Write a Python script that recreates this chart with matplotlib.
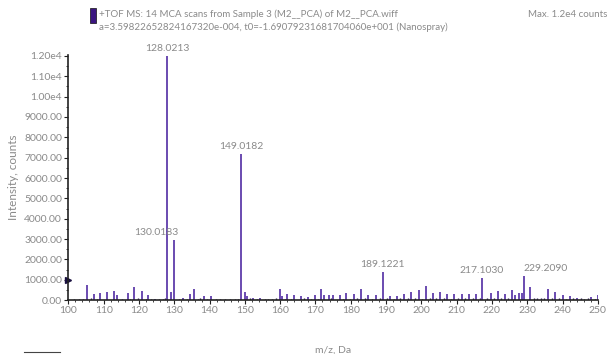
import matplotlib
matplotlib.use('Agg')
import matplotlib.pyplot as plt
from matplotlib.ticker import MultipleLocator, FuncFormatter
from matplotlib.lines import Line2D
from matplotlib.patches import Rectangle

plt.rcParams['font.family'] = ['Lato', 'DejaVu Sans']

# peaks (m/z, counts)
mz = [105.2, 107.2, 109.1, 111.0, 112.9, 113.9, 116.8, 118.7, 120.8, 122.7,
      124.6, 128.0213, 129.1, 130.0183, 132.6, 134.6, 135.5, 138.5, 140.3,
      149.0182, 150.0, 150.6, 152.3, 154.3, 160.0, 160.6, 162.0, 164.0, 165.9,
      167.9, 169.8, 171.6, 172.4, 173.8, 175.0, 176.9, 178.8, 180.9, 182.9,
      185.0, 187.1, 189.1221, 191.2, 193.1, 195.2, 197.2, 199.3, 201.3, 203.3,
      205.4, 207.3, 209.3, 211.5, 213.5, 215.6, 217.1030, 219.7, 221.6, 223.7,
      225.7, 226.6, 227.7, 228.6, 229.2090, 230.9, 235.9, 238.0, 240.1, 242.0,
      244.1, 248.1, 250.0]
counts = [740, 285, 340, 400, 470, 240, 370, 660, 430, 270,
          70, 12000, 400, 2950, 100, 315, 530, 185, 185,
          7200, 385, 215, 130, 130, 560, 215, 285, 240, 185,
          140, 240, 560, 240, 240, 245, 275, 360, 320, 565,
          245, 275, 1400, 200, 200, 305, 390, 505, 680, 330,
          420, 305, 305, 305, 305, 305, 1110, 350, 450, 305,
          505, 245, 360, 360, 1180, 650, 535, 390, 260, 200,
          120, 150, 245]

# low-level noise peaks
noise_mz = [101.5, 103.0, 104.1, 106.3, 108.2, 115.2, 117.6, 119.7, 121.9, 123.5,
            125.8, 126.9, 127.3, 131.4, 133.5, 136.6, 137.4, 139.3, 141.8, 143.1,
            144.5, 145.9, 147.2, 148.1, 151.4, 153.5, 155.6, 156.7, 157.8, 158.9,
            161.3, 163.2, 166.8, 168.8, 170.7, 174.3, 177.8, 179.9, 181.8, 184.1,
            186.0, 188.2, 190.3, 192.2, 194.1, 196.3, 198.3, 200.2, 202.4, 204.3,
            206.4, 208.3, 210.4, 212.4, 214.6, 216.5, 218.6, 220.6, 222.7, 224.6,
            231.8, 232.9, 233.8, 234.9, 237.0, 239.1, 241.1, 243.1, 245.2, 246.1,
            247.2, 249.1]
noise_counts = [40, 60, 50, 90, 70, 80, 60, 90, 70, 60,
                50, 60, 90, 80, 70, 60, 90, 70, 80, 60,
                50, 70, 60, 80, 90, 70, 60, 80, 70, 90,
                80, 70, 90, 60, 80, 90, 70, 80, 90, 110,
                80, 90, 100, 80, 110, 90, 100, 80, 110, 90,
                100, 80, 110, 90, 100, 120, 90, 100, 110, 120,
                130, 90, 100, 110, 90, 110, 80, 90, 100, 80,
                90, 80]

labels = ['128.0213', '130.0183', '149.0182', '189.1221', '217.1030', '229.2090']
label_mz = [128.0213, 130.0183, 149.0182, 189.1221, 217.1030, 229.2090]
label_h = [12000, 2950, 7200, 1400, 1110, 1180]
label_dx = [0, -13, 0, 0, 0, 15]

grey = '#8a8a8a'
purple = '#6a4bb0'

fig = plt.figure(figsize=(6.1, 3.54), dpi=100)
ax = fig.add_axes([0.112, 0.152, 0.868, 0.693])

ax.vlines(noise_mz, 0, noise_counts, color='#2a1a55', lw=1.0)
ax.vlines(mz, 0, counts, color=purple, lw=1.4)

for t, x, h, dx in zip(labels, label_mz, label_h, label_dx):
    ax.annotate(t, (x, h), xytext=(dx, 2), textcoords='offset points',
                ha='center', va='bottom', fontsize=7.5, color=grey)

ax.set_xlim(100, 250)
ax.set_ylim(0, 12050)
ax.xaxis.set_major_locator(MultipleLocator(10))
ax.xaxis.set_minor_locator(MultipleLocator(2))
ax.yaxis.set_major_locator(MultipleLocator(1000))
ax.yaxis.set_minor_locator(MultipleLocator(500))


def yfmt(v, pos):
    if v >= 10000:
        return '%.2fe4' % (v / 10000)
    return '%.2f' % v


ax.yaxis.set_major_formatter(FuncFormatter(yfmt))
ax.tick_params(axis='both', which='major', labelsize=7.5, labelcolor=grey,
               length=3, width=0.8, color='#222222', pad=1.5)
ax.tick_params(axis='both', which='minor', length=1.5, width=0.6, color='#222222')
for s in ['top', 'right']:
    ax.spines[s].set_visible(False)
for s in ['left', 'bottom']:
    ax.spines[s].set_color('#222222')
    ax.spines[s].set_linewidth(1.2)

ax.set_xlabel('m/z, Da', fontsize=7.5, color=grey, labelpad=22)
ax.set_ylabel('Intensity, counts', fontsize=8.5, color=grey, labelpad=4)

# marker on y-axis at 1000
ax.plot(0, 1000, marker='>', color='#1a1040', ms=4,
        transform=ax.get_yaxis_transform(), clip_on=False)

# header
fig.patches.append(Rectangle((0.147, 0.935), 0.010, 0.042, transform=fig.transFigure,
                             color='#3a1580', ec='#111111', lw=0.5))
fig.text(0.163, 0.96, '+TOF MS: 14 MCA scans from Sample 3 (M2__PCA) of M2__PCA.wiff',
         fontsize=7, color=grey, va='center')
fig.text(0.163, 0.923, 'a=3.59822652824167320e-004, t0=-1.69079231681704060e+001 (Nanospray)',
         fontsize=7, color=grey, va='center')
fig.text(0.995, 0.96, 'Max. 1.2e4 counts', fontsize=7, color=grey, va='center', ha='right')

fig.add_artist(Line2D([0.04, 0.098], [0.006, 0.006], color='#444444', lw=0.8))

fig.savefig('out.png', dpi=100)
